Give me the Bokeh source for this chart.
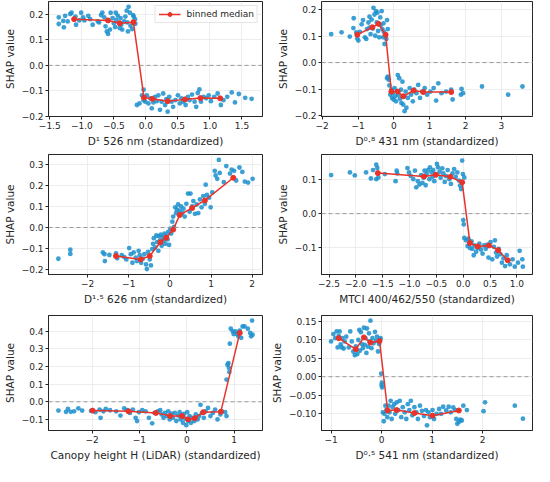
from bokeh.plotting import figure
from bokeh.layouts import gridplot
from bokeh.models import Range1d, FixedTicker, CustomJSTickFormatter, Span
from bokeh.embed import file_html
from bokeh.resources import INLINE

# ---------------- data ----------------
p1_points = [(-1.36,0.188),(-1.36,0.162),(-1.29,0.174),(-1.28,0.149),(-1.22,0.172),(-1.18,0.201),(-1.16,0.206),(-1.10,0.191),(-1.09,0.159),(-1.01,0.206),
 (-0.98,0.188),(-0.96,0.176),(-0.90,0.194),(-0.87,0.181),(-0.83,0.159),(-0.75,0.172),(-0.70,0.197),(-0.68,0.206),(-0.65,0.188),(-0.63,0.153),
 (-0.61,0.133),(-0.59,0.123),(-0.56,0.140),(-0.55,0.206),(-0.52,0.185),(-0.50,0.165),(-0.48,0.150),(-0.46,0.178),(-0.44,0.195),(-0.41,0.146),
 (-0.385,0.159),(-0.37,0.140),(-0.34,0.172),(-0.32,0.191),(-0.30,0.214),(-0.28,0.133),(-0.27,0.229),(-0.25,0.206),(-0.24,0.155),(-0.215,0.142),
 (-0.20,0.197),(-0.19,0.191),(-0.17,0.181),(-0.165,0.163),(-0.29,0.168),(-0.395,0.185),(-0.47,0.206),(-0.73,0.168),(-1.04,0.176),(-1.26,0.194),
 (-0.14,-0.155),(-0.10,-0.149),(-0.06,-0.117),(-0.036,-0.095),(-0.036,-0.136),(-0.01,-0.142),(0.015,-0.117),(0.04,-0.149),(0.067,-0.129),(0.092,-0.168),
 (0.118,-0.145),(0.144,-0.123),(0.17,-0.140),(0.195,-0.117),(0.22,-0.174),(0.246,-0.142),(0.27,-0.110),(0.30,-0.155),(0.32,-0.132),(0.34,-0.181),
 (0.365,-0.123),(0.40,-0.142),(0.425,-0.162),(0.46,-0.136),(0.50,-0.117),(0.53,-0.149),(0.555,-0.129),(0.58,-0.142),(0.62,-0.155),(0.656,-0.123),
 (0.68,-0.136),(0.72,-0.114),(0.76,-0.142),(0.785,-0.162),(0.81,-0.108),(0.835,-0.094),(0.86,-0.142),(0.90,-0.123),(0.94,-0.129),(0.98,-0.117),
 (1.015,-0.140),(1.067,-0.123),(1.12,-0.110),(1.17,-0.155),(1.21,-0.136),(1.27,-0.123),(1.34,-0.106),(1.39,-0.145),(1.45,-0.112),(1.55,-0.127),(1.65,-0.131)]
p1_median = [(-1.12,0.181),(-0.59,0.176),(-0.41,0.165),(-0.195,0.169),(-0.03,-0.126),(0.10,-0.131),(0.34,-0.140),(0.61,-0.133),(0.85,-0.128),(1.16,-0.129)]

p2_points = [(-1.75,0.107),(-1.46,0.114),(-1.23,0.098),(-1.12,0.167),(-1.13,0.130),(-1.05,0.114),(-1.02,0.091),(-0.99,0.083),(-0.95,0.116),(-0.90,0.144),
 (-0.86,0.160),(-0.81,0.095),(-0.77,0.089),(-0.75,0.126),(-0.71,0.151),(-0.68,0.173),(-0.65,0.107),(-0.62,0.162),(-0.59,0.128),(-0.57,0.206),
 (-0.54,0.181),(-0.52,0.101),(-0.50,0.194),(-0.48,0.151),(-0.46,0.188),(-0.44,0.119),(-0.41,0.095),(-0.38,0.170),(-0.37,0.141),(-0.34,0.194),
 (-0.32,0.126),(-0.30,0.095),(-0.28,0.116),(-0.26,0.070),(-0.23,0.101),(-0.21,0.089),(-0.19,0.160),(-0.17,0.126),(-0.29,0.148),(-0.68,0.132),
 (-0.17,-0.053),(-0.14,-0.065),(-0.19,-0.059),(-0.125,-0.086),
 (-0.10,-0.121),(-0.07,-0.102),(-0.05,-0.133),(-0.03,-0.115),(-0.01,-0.139),(0.02,-0.096),(0.04,-0.127),(0.06,-0.146),(0.09,-0.109),(0.11,-0.047),
 (0.125,-0.121),(0.15,-0.059),(0.17,-0.136),(0.20,-0.102),(0.21,-0.152),(0.24,-0.072),(0.26,-0.158),(0.29,-0.127),(0.30,-0.183),(0.33,-0.109),
 (0.35,-0.170),(0.39,-0.133),(0.44,-0.096),(0.48,-0.121),(0.53,-0.146),(0.57,-0.102),(0.63,-0.115),(0.68,-0.084),(0.73,-0.133),(0.79,-0.109),
 (0.86,-0.096),(0.93,-0.121),(1.02,-0.109),(1.11,-0.096),(1.18,-0.143),(1.24,-0.078),(1.33,-0.115),(1.46,-0.109),(1.60,-0.102),(1.64,-0.139),
 (1.87,-0.121),(1.89,-0.099),(1.93,-0.115),(2.46,-0.090),(3.19,-0.121),(3.59,-0.090)]
p2_median = [(-1.02,0.105),(-0.60,0.133),(-0.43,0.146),(-0.23,0.105),(-0.07,-0.109),(0.107,-0.109),(0.26,-0.127),(0.55,-0.105),(0.82,-0.111),(1.60,-0.111)]

p3_points = [(-2.71,-0.149),(-2.42,-0.106),(-2.42,-0.126),(-1.63,-0.119),(-1.59,-0.127),(-1.58,-0.160),(-1.47,-0.131),(-1.31,-0.124),(-1.28,-0.147),(-1.17,-0.132),
 (-1.11,-0.141),(-1.06,-0.152),(-0.99,-0.098),(-0.95,-0.127),(-0.91,-0.168),(-0.88,-0.119),(-0.83,-0.144),(-0.80,-0.160),(-0.76,-0.111),(-0.73,-0.132),
 (-0.70,-0.168),(-0.66,-0.149),(-0.62,-0.127),(-0.58,-0.176),(-0.56,-0.198),(-0.53,-0.116),(-0.49,-0.152),(-0.46,-0.181),(-0.43,-0.103),(-0.41,-0.078),
 (-0.39,-0.051),(-0.36,-0.095),(-0.33,-0.038),(-0.31,-0.070),(-0.28,-0.111),(-0.27,-0.041),(-0.24,-0.062),(-0.22,-0.034),(-0.20,-0.087),(-0.17,-0.046),
 (-0.15,-0.062),(-0.13,-0.029),(-0.11,-0.078),(-0.09,-0.041),(-0.06,-0.057),(-0.04,-0.021),(-0.02,-0.083),(0.01,-0.005),(0.03,-0.029),(0.06,0.028),
 (0.08,0.052),(0.10,0.003),(0.13,0.096),(0.15,0.069),(0.17,0.085),(0.20,0.110),(0.22,0.060),(0.24,0.080),(0.27,0.101),(0.30,0.069),
 (0.33,0.090),(0.36,0.052),(0.40,0.113),(0.44,0.162),(0.48,0.075),(0.50,0.162),(0.54,0.101),(0.57,0.126),(0.61,0.065),(0.65,0.110),
 (0.69,0.069),(0.73,0.134),(0.77,0.096),(0.81,0.150),(0.85,0.113),(0.87,0.204),(0.90,0.155),(0.95,0.142),(0.99,0.096),(1.03,0.167),
 (1.09,0.270),(1.11,0.248),(1.15,0.232),(1.19,0.322),(1.21,0.260),(1.31,0.216),(1.37,0.293),(1.46,0.257),(1.50,0.276),(1.56,0.270),
 (1.61,0.224),(1.69,0.286),(1.76,0.265),(1.82,0.219),(1.90,0.214),(2.01,0.232)]
p3_median = [(-1.31,-0.136),(-0.71,-0.152),(-0.49,-0.136),(-0.23,-0.070),(-0.09,-0.049),(0.08,-0.010),(0.24,0.060),(0.54,0.093),(0.85,0.129),(1.54,0.237)]

p4_points = [(-2.46,0.114),(-2.11,0.122),(-2.02,0.113),(-1.81,0.122),(-1.72,0.104),(-1.68,0.129),(-1.62,0.145),(-1.60,0.135),(-1.62,0.102),(-1.58,0.107),
 (-1.46,0.117),(-1.24,0.127),(-1.23,0.119),(-1.26,0.096),(-1.04,0.135),(-1.01,0.122),(-0.98,0.112),(-0.93,0.102),(-0.90,0.127),(-0.875,0.078),
 (-0.845,0.096),(-0.815,0.086),(-0.785,0.114),(-0.76,0.091),(-0.74,0.107),(-0.72,0.127),(-0.70,0.084),(-0.68,0.117),(-0.655,0.129),(-0.63,0.102),
 (-0.62,0.137),(-0.59,0.122),(-0.57,0.109),(-0.56,0.129),(-0.54,0.096),(-0.52,0.117),(-0.49,0.147),(-0.47,0.137),(-0.44,0.124),(-0.42,0.106),
 (-0.39,0.134),(-0.37,0.119),(-0.345,0.094),(-0.32,0.111),(-0.29,0.129),(-0.26,0.102),(-0.23,0.088),(-0.20,0.119),(-0.17,0.132),(-0.14,0.109),
 (-0.11,0.122),(-0.08,0.098),(-0.06,0.083),(-0.04,0.073),(-0.02,0.157),(-0.006,0.117),(0.02,0.107),
 (0.0,-0.019),(0.01,-0.032),(0.02,-0.072),(0.05,-0.079),(0.08,-0.096),(0.095,-0.074),(0.11,-0.089),(0.13,-0.102),(0.155,-0.082),(0.17,-0.104),
 (0.195,-0.123),(0.21,-0.094),(0.24,-0.113),(0.27,-0.102),(0.30,-0.089),(0.33,-0.106),(0.36,-0.118),(0.39,-0.094),(0.42,-0.104),(0.45,-0.092),
 (0.47,-0.130),(0.51,-0.084),(0.54,-0.135),(0.57,-0.098),(0.59,-0.079),(0.61,-0.115),(0.63,-0.127),(0.66,-0.104),(0.69,-0.120),(0.72,-0.145),
 (0.75,-0.132),(0.78,-0.155),(0.81,-0.123),(0.87,-0.150),(0.92,-0.135),(0.96,-0.157),(1.02,-0.145),(1.05,-0.110),(1.10,-0.135),(1.11,-0.157)]
p4_median = [(-1.59,0.120),(-0.73,0.110),(-0.51,0.115),(-0.24,0.109),(-0.02,0.093),(0.125,-0.087),(0.27,-0.097),(0.48,-0.094),(0.65,-0.108),(0.83,-0.138)]

p5_points = [(-2.71,-0.050),(-2.55,-0.057),(-2.51,-0.041),(-2.45,-0.057),(-2.38,-0.054),(-2.29,-0.037),(-2.21,-0.050),(-2.02,-0.052),(-1.93,-0.059),(-1.84,-0.044),
 (-1.82,-0.091),(-1.76,-0.054),(-1.71,-0.041),(-1.62,-0.048),(-1.49,-0.054),(-1.40,-0.078),(-1.32,-0.037),(-1.26,-0.048),(-1.20,-0.063),(-1.14,-0.044),
 (-1.08,-0.091),(-1.05,-0.109),(-1.01,-0.059),(-0.94,-0.048),(-0.87,-0.054),(-0.80,-0.091),(-0.73,-0.122),(-0.68,-0.063),(-0.61,-0.054),(-0.56,-0.048),
 (-0.53,-0.072),(-0.49,-0.091),(-0.46,-0.063),(-0.42,-0.081),(-0.39,-0.054),(-0.36,-0.100),(-0.32,-0.067),(-0.29,-0.091),(-0.25,-0.063),(-0.22,-0.109),
 (-0.18,-0.078),(-0.15,-0.059),(-0.13,-0.100),(-0.10,-0.085),(-0.08,-0.119),(-0.06,-0.069),(-0.03,-0.096),(-0.01,-0.133),(0.01,-0.059),(0.03,-0.109),
 (0.06,-0.081),(0.09,-0.119),(0.12,-0.091),(0.16,-0.109),(0.19,-0.072),(0.23,-0.100),(0.26,-0.081),(0.29,-0.017),(0.32,-0.063),(0.36,-0.091),
 (0.40,-0.054),(0.45,-0.035),(0.50,-0.081),(0.55,-0.063),(0.60,-0.044),(0.65,-0.100),(0.71,-0.072),(0.74,-0.054),(0.81,-0.059),(0.84,-0.081),
 (0.84,0.126),(0.86,0.211),(0.88,0.219),(0.89,0.193),(0.90,0.169),(0.91,0.330),(0.93,0.415),(0.97,0.400),(0.99,0.385),(1.03,0.400),
 (1.06,0.385),(1.09,0.372),(1.12,0.404),(1.15,0.363),(1.18,0.428),(1.22,0.428),(1.29,0.415),(1.34,0.391),(1.36,0.372),(1.38,0.461),(1.39,0.381)]
p5_median = [(-1.99,-0.050),(-1.23,-0.054),(-0.65,-0.063),(-0.35,-0.081),(-0.10,-0.081),(0.03,-0.100),(0.17,-0.093),(0.35,-0.059),(0.72,-0.056),(1.12,0.391)]

p6_points = [(-1.0,0.095),(-0.955,0.115),(-0.92,0.104),(-0.89,0.122),(-0.87,0.079),(-0.85,0.110),(-0.83,0.122),(-0.81,0.087),(-0.79,0.079),(-0.78,0.104),
 (-0.75,0.076),(-0.73,0.095),(-0.70,0.108),(-0.65,0.079),(-0.62,0.122),(-0.59,0.095),(-0.56,0.068),(-0.53,0.058),(-0.51,0.082),(-0.48,0.061),
 (-0.46,0.099),(-0.44,0.126),(-0.43,0.070),(-0.41,0.120),(-0.39,0.088),(-0.37,0.077),(-0.35,0.132),(-0.335,0.086),(-0.32,0.104),(-0.30,0.064),
 (-0.29,0.130),(-0.27,0.081),(-0.25,0.117),(-0.24,0.095),(-0.22,0.151),(-0.20,0.077),(-0.18,0.104),(-0.16,0.090),(-0.13,0.121),(-0.11,0.097),
 (-0.09,0.108),(-0.07,0.068),(-0.05,0.088),(-0.03,0.099),(-0.02,0.104),
 (-0.006,0.008),(0.0,-0.023),(0.006,-0.016),(0.013,-0.029),
 (0.025,-0.096),(0.044,-0.120),(0.057,-0.100),(0.076,-0.078),(0.095,-0.090),(0.114,-0.109),(0.14,-0.078),(0.158,-0.096),(0.18,-0.065),(0.20,-0.114),
 (0.22,-0.082),(0.25,-0.074),(0.27,-0.100),(0.30,-0.069),(0.33,-0.090),(0.36,-0.065),(0.39,-0.109),(0.42,-0.082),(0.46,-0.096),(0.49,-0.114),
 (0.52,-0.074),(0.55,-0.090),(0.58,-0.065),(0.61,-0.104),(0.65,-0.082),(0.69,-0.096),(0.72,-0.114),(0.76,-0.078),(0.80,-0.092),(0.84,-0.106),
 (0.88,-0.090),(0.90,-0.131),(0.93,-0.096),(0.96,-0.109),(1.01,-0.090),(1.04,-0.114),(1.09,-0.100),(1.14,-0.087),(1.18,-0.100),(1.22,-0.081),
 (1.28,-0.091),(1.33,-0.081),(1.37,-0.096),(1.42,-0.083),(1.46,-0.090),(1.48,-0.114),(1.50,-0.127),(1.53,-0.122),(1.56,-0.116),(1.59,-0.118),
 (1.62,-0.078),(1.69,-0.090),(2.02,-0.093),(2.05,-0.069),(2.64,-0.078),(2.80,-0.113)]
p6_median = [(-0.85,0.104),(-0.51,0.074),(-0.35,0.106),(-0.22,0.092),(-0.04,0.096),(0.12,-0.091),(0.30,-0.090),(0.65,-0.098),(1.01,-0.105),(1.53,-0.091)]

x_labels = ["D\u00b9 526 nm (standardized)",
            "D\u2070\u00b7\u2078 431 nm (standardized)",
            "D\u00b9\u00b7\u2075 626 nm (standardized)",
            "MTCI 400/462/550 (standardized)",
            "Canopy height H (LiDAR) (standardized)",
            "D\u2070\u00b7\u2075 541 nm (standardized)"]
y_label = "SHAP value"
legend_text = "binned median"

x_ticks = [[-1.5, -1.0, -0.5, 0.0, 0.5, 1.0, 1.5],
           [-2, -1, 0, 1, 2, 3],
           [-2, -1, 0, 1, 2],
           [-2.5, -2.0, -1.5, -1.0, -0.5, 0.0, 0.5, 1.0],
           [-2, -1, 0, 1],
           [-1, 0, 1, 2]]
y_ticks = [[-0.2, -0.1, 0.0, 0.1, 0.2],
           [-0.2, -0.1, 0.0, 0.1, 0.2],
           [-0.2, -0.1, 0.0, 0.1, 0.2, 0.3],
           [-0.1, 0.0, 0.1],
           [-0.1, 0.0, 0.1, 0.2, 0.3, 0.4],
           [-0.10, -0.05, 0.0, 0.05, 0.10, 0.15]]
x_decimals = [1, 0, 0, 1, 0, 0]
y_decimals = [1, 1, 1, 1, 1, 2]
x_ranges = [(-1.52, 1.82), (-2.02, 3.87), (-2.95, 2.25), (-2.64, 1.29), (-2.92, 1.60), (-1.19, 2.99)]
y_ranges = [(-0.20, 0.25), (-0.203, 0.23), (-0.224, 0.348), (-0.18, 0.175), (-0.163, 0.49), (-0.145, 0.165)]

POINT_COLOR = "#1b8fcd"
MEDIAN_COLOR = "#e8322a"
FONT = "DejaVu Sans"
INK = "#262626"

all_points = [p1_points, p2_points, p3_points, p4_points, p5_points, p6_points]
all_medians = [p1_median, p2_median, p3_median, p4_median, p5_median, p6_median]

row_heights = [153, 158, 155]
row_top = [1, 1, 4]
row_bottom = [37, 37, 36]


def fmt(dec):
    return CustomJSTickFormatter(code="return tick.toFixed(%d).replace('-', '\\u2212');" % dec)


figs = []
for i in range(6):
    row, col = divmod(i, 2)
    p = figure(width=267, height=row_heights[row],
               x_range=Range1d(*x_ranges[i]), y_range=Range1d(*y_ranges[i]),
               output_backend="svg", toolbar_location=None,
               min_border_left=(42 if col == 0 else 50),
               min_border_right=(5 if col == 0 else 2),
               min_border_top=row_top[row], min_border_bottom=row_bottom[row])
    p.background_fill_color = "white"
    p.border_fill_color = "white"
    p.outline_line_color = INK
    p.outline_line_width = 1
    p.outline_line_alpha = 1

    for ax, ticks, dec in ((p.xaxis[0], x_ticks[i], x_decimals[i]), (p.yaxis[0], y_ticks[i], y_decimals[i])):
        ax.ticker = FixedTicker(ticks=ticks)
        ax.formatter = fmt(dec)
        ax.axis_line_color = INK
        ax.major_tick_line_color = INK
        ax.major_tick_out = 3
        ax.major_tick_in = 0
        ax.minor_tick_line_color = None
        ax.major_label_text_font = FONT
        ax.major_label_text_font_size = "9px"
        ax.major_label_text_color = INK
        ax.major_label_standoff = 2
        ax.axis_label_text_font = FONT
        ax.axis_label_text_font_size = "10.5px"
        ax.axis_label_text_font_style = "normal"
        ax.axis_label_text_color = INK
        ax.axis_label_standoff = 3
    p.xaxis.axis_label = x_labels[i]
    p.yaxis.axis_label = y_label

    p.xgrid.grid_line_color = "#e9e9e9"
    p.ygrid.grid_line_color = "#e9e9e9"
    p.xgrid.grid_line_width = 0.8
    p.ygrid.grid_line_width = 0.8

    p.add_layout(Span(location=0, dimension="width", line_color="#9a9a9a",
                      line_dash="4 3", line_width=1))

    xs = [a for a, b in all_points[i]]
    ys = [b for a, b in all_points[i]]
    p.scatter(xs, ys, size=4.8, fill_color=POINT_COLOR, line_color=None, fill_alpha=0.85)

    mx = [a for a, b in all_medians[i]]
    my = [b for a, b in all_medians[i]]
    if i == 0:
        p.line(mx, my, line_color=MEDIAN_COLOR, line_width=1.5, legend_label=legend_text)
        p.scatter(mx, my, size=5, fill_color=MEDIAN_COLOR, line_color=MEDIAN_COLOR, legend_label=legend_text)
        lg = p.legend[0]
        lg.location = "top_right"
        lg.margin = 4
        lg.padding = 3
        lg.spacing = 0
        lg.border_line_color = "#cccccc"
        lg.border_line_width = 1
        lg.background_fill_alpha = 0.85
        lg.label_text_font = FONT
        lg.label_text_font_size = "9px"
        lg.label_text_color = INK
        lg.label_height = 10
        lg.glyph_height = 10
        lg.glyph_width = 22
        lg.label_standoff = 6
    else:
        p.line(mx, my, line_color=MEDIAN_COLOR, line_width=1.5)
        p.scatter(mx, my, size=5, fill_color=MEDIAN_COLOR, line_color=MEDIAN_COLOR)
    figs.append(p)

grid = gridplot([[figs[0], figs[1]], [figs[2], figs[3]], [figs[4], figs[5]]],
                toolbar_location=None)

open("out.html", "w").write(file_html(grid, INLINE))
